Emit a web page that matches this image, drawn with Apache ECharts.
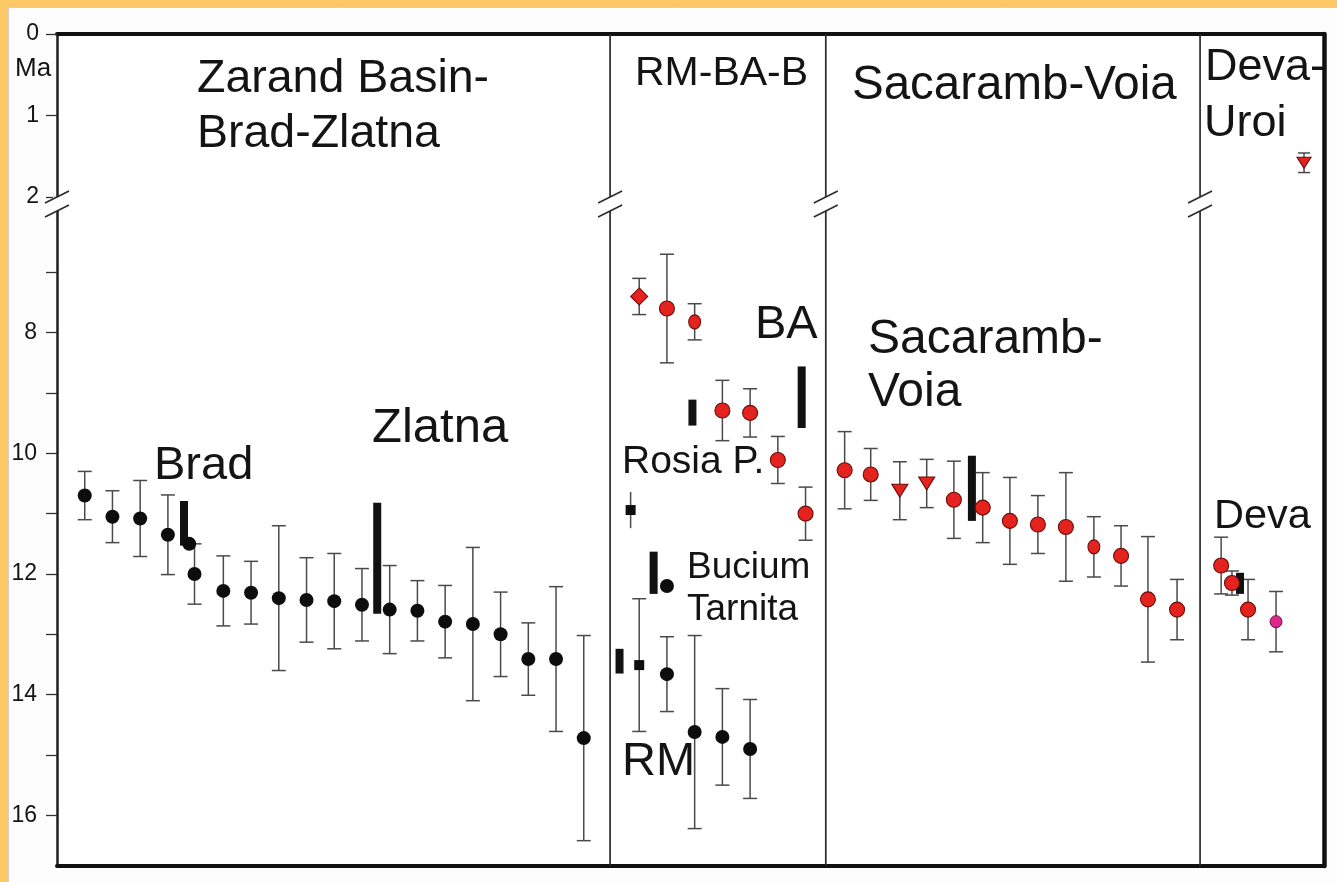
<!DOCTYPE html>
<html>
<head>
<meta charset="utf-8">
<script src="https://cdn.jsdelivr.net/npm/echarts@6.0.0/dist/echarts.min.js"></script>
<style>
  html, body { margin: 0; padding: 0; background: #FDC866; }
  #chart { width: 1337px; height: 882px; }
</style>
</head>
<body>
<div id="chart"></div>
<script>
// ---- Age axis (Ma); the axis is broken between 2 and 6 Ma ----
const upperTicks = [0, 1, 2];
const lowerTicks = [7, 8, 9, 10, 11, 12, 13, 14, 15, 16];
const lowerLabels = [8, 10, 12, 14, 16];
const LOWER_MIN = 6;
const LOWER_MAX = 16.84;

// ---- Horizontal sample axis: samples are placed in slots, districts split the plot ----
const SLOT_MAX = 45.7;
const districtBounds = [19.95, 27.73, 41.23];
const breakPositions = [0, 19.95, 27.73, 41.23];

// ---- Ages: [slot, age Ma, ± error Ma]; null error = no error bar ----
const blackCircles = [
  [1, 10.70, 0.40], [2, 11.05, 0.43], [3, 11.08, 0.63], [4, 11.35, 0.66],
  [4.77, 11.50, null], [4.96, 12.00, 0.50], [6, 12.28, 0.58], [7, 12.31, 0.52],
  [8, 12.40, 1.20], [9, 12.43, 0.70], [10, 12.45, 0.79], [11, 12.51, 0.60],
  [12, 12.59, 0.73], [13, 12.61, 0.50], [14, 12.79, 0.60], [15, 12.83, 1.27],
  [16, 13.00, 0.70], [17, 13.41, 0.60], [18, 13.41, 1.20], [19, 14.72, 1.70],
  [22, 12.20, null], [22, 13.66, 0.62], [23, 14.62, 1.60], [24, 14.70, 0.80],
  [25, 14.90, 0.82]
];
const blackSquares = [
  [21, 13.51, 1.10]
];
const blackSquaresNoCap = [
  [20.69, 10.94, 0.30]
];
const redCircles = [
  [22, 7.60, 0.90], [24, 9.29, 0.50], [25, 9.33, 0.40], [26, 10.11, 0.39],
  [27, 11.00, 0.44],
  [28.41, 10.28, 0.64], [29.35, 10.35, 0.43], [32.35, 10.77, 0.64],
  [33.39, 10.90, 0.58], [34.37, 11.12, 0.72], [35.38, 11.18, 0.48],
  [36.39, 11.22, 0.90], [38.38, 11.70, 0.50], [39.35, 12.42, 1.04],
  [40.40, 12.59, 0.50],
  [41.99, 11.86, 0.47], [42.38, 12.15, 0.20], [42.96, 12.59, 0.50]
];
const redOvals = [
  [23, 7.82, 0.30], [37.40, 11.55, 0.50]
];
const redDiamonds = [
  [21, 7.40, 0.30]
];
const redTriangles = [
  [30.40, 10.62, 0.48], [31.37, 10.50, 0.40]
];
const magentaCircles = [
  [43.97, 12.79, 0.50]
];
// Young (0–2 Ma) age from Deva-Uroi
const upperTriangles = [
  [44.98, 1.58, 0.12]
];

// ---- Age ranges drawn as solid bars: [slot, from Ma, to Ma] ----
const ageRanges = [
  [4.58, 10.79, 11.53],   // Brad
  [11.55, 10.82, 12.66],  // Zlatna
  [22.92, 9.11, 9.54],
  [26.86, 8.56, 9.58],    // BA
  [21.52, 11.63, 12.33],  // Bucium
  [20.29, 13.24, 13.65],
  [33.00, 10.04, 11.12],  // Sacaramb
  [42.67, 11.98, 12.33]   // Deva
];

// ---- Text ----
const FONT = "'Liberation Sans', Arial, Helvetica, sans-serif";
const INK = '#141414';
const texts = [
  { t: 'Zarand Basin-', x: 197, y: 79, s: 46.5 },
  { t: 'Brad-Zlatna', x: 197, y: 134, s: 46.5 },
  { t: 'RM-BA-B', x: 635, y: 74, s: 41 },
  { t: 'Sacaramb-Voia', x: 852, y: 86, s: 47.5 },
  { t: 'Deva-', x: 1205, y: 68, s: 45 },
  { t: 'Uroi', x: 1204, y: 124, s: 45 },
  { t: 'Brad', x: 154, y: 466, s: 47 },
  { t: 'Zlatna', x: 372, y: 428, s: 49 },
  { t: 'BA', x: 755, y: 325, s: 47 },
  { t: 'Sacaramb-', x: 868, y: 340, s: 48 },
  { t: 'Voia', x: 868, y: 393, s: 48 },
  { t: 'Rosia P.', x: 622, y: 462, s: 39 },
  { t: 'Bucium', x: 687, y: 568, s: 37 },
  { t: 'Tarnita', x: 687, y: 610, s: 37 },
  { t: 'RM', x: 622, y: 762, s: 47 },
  { t: 'Deva', x: 1214, y: 517, s: 41.5 },
  { t: 'Ma', x: 15, y: 69, s: 26 }
];

// ---- Renderers ----
const ERR_COLOR = '#4a4a4a';
function errorBars(capHalf) {
  return function (params, api) {
    const x = api.value(0), y = api.value(1), e = api.value(2);
    const a = api.coord([x, y - e]);
    const b = api.coord([x, y + e]);
    const st = { stroke: ERR_COLOR, lineWidth: 1.5 };
    const kids = [{ type: 'line', shape: { x1: a[0], y1: a[1], x2: b[0], y2: b[1] }, style: st }];
    if (capHalf > 0) {
      kids.push({ type: 'line', shape: { x1: a[0] - capHalf, y1: a[1], x2: a[0] + capHalf, y2: a[1] }, style: st });
      kids.push({ type: 'line', shape: { x1: b[0] - capHalf, y1: b[1], x2: b[0] + capHalf, y2: b[1] }, style: st });
    }
    return { type: 'group', children: kids };
  };
}
function rangeBar(params, api) {
  const a = api.coord([api.value(0), api.value(1)]);
  const b = api.coord([api.value(0), api.value(2)]);
  const w = 8;
  return { type: 'rect', shape: { x: a[0] - w / 2, y: a[1], width: w, height: b[1] - a[1] },
           style: { fill: '#111' } };
}
function boundaryLine(params, api) {
  const a = api.coord([api.value(0), 0]);
  const b = api.coord([api.value(0), 1]);
  return { type: 'line', shape: { x1: a[0], y1: a[1], x2: b[0], y2: b[1] },
           style: { stroke: '#2a2a2a', lineWidth: 1.7 } };
}
function axisBreak(params, api) {
  const c = api.coord([api.value(0), api.value(1)]);
  const x = c[0], y = c[1], gap = 14, hw = 12, hh = 6;
  const st = { stroke: '#2a2a2a', lineWidth: 1.6 };
  return { type: 'group', children: [
    { type: 'rect', shape: { x: x - 4, y: y, width: 8, height: gap }, style: { fill: '#ffffff' } },
    { type: 'line', shape: { x1: x - hw, y1: y + hh, x2: x + hw, y2: y - hh }, style: st },
    { type: 'line', shape: { x1: x - hw, y1: y + gap + hh, x2: x + hw, y2: y + gap - hh }, style: st }
  ] };
}

const withErr = arr => arr.filter(d => d[2] != null);
const pts = arr => arr.map(d => [d[0], d[1]]);

const hiddenX = (gi) => ({ gridIndex: gi, type: 'value', min: 0, max: SLOT_MAX, show: false });
const frameAxisLine = (w, c) => ({ show: true, onZero: false, lineStyle: { color: c, width: w } });
const noDeco = { axisTick: { show: false }, axisLabel: { show: false }, splitLine: { show: false } };

const redStyle = { color: '#E5231E', borderColor: '#6a0e0e', borderWidth: 1.1, opacity: 1 };
const blackStyle = { color: '#0d0d0d', opacity: 1 };

const option = {
  animation: false,
  backgroundColor: 'transparent',
  textStyle: { fontFamily: FONT },
  grid: [
    { left: 57, right: 13, top: 34, bottom: 16, show: true, backgroundColor: '#ffffff', borderWidth: 0, outerBoundsMode: 'none' },
    { left: 57, right: 13, top: 34, height: 163, outerBoundsMode: 'none' },
    { left: 57, right: 13, top: 212, bottom: 16, outerBoundsMode: 'none' }
  ],
  xAxis: [
    Object.assign({ gridIndex: 0, type: 'value', min: 0, max: SLOT_MAX, position: 'bottom',
      axisLine: frameAxisLine(4, '#111') }, noDeco),
    Object.assign({ gridIndex: 0, type: 'value', min: 0, max: SLOT_MAX, position: 'top',
      axisLine: frameAxisLine(4, '#111') }, noDeco),
    hiddenX(1),
    hiddenX(2)
  ],
  yAxis: [
    Object.assign({ gridIndex: 0, type: 'value', min: 0, max: 1, position: 'left',
      axisLine: frameAxisLine(2.5, '#1e1e1e') }, noDeco),
    Object.assign({ gridIndex: 0, type: 'value', min: 0, max: 1, position: 'right',
      axisLine: frameAxisLine(4.5, '#111') }, noDeco),
    {
      gridIndex: 1, type: 'value', min: 0, max: 2, inverse: true,
      axisLine: { show: false },
      axisTick: { show: true, length: 11, customValues: upperTicks, lineStyle: { color: '#333', width: 1.3 } },
      axisLabel: { show: true, customValues: upperTicks, margin: 18, fontSize: 23, color: INK, fontFamily: FONT },
      splitLine: { show: false }
    },
    {
      gridIndex: 2, type: 'value', min: LOWER_MIN, max: LOWER_MAX, inverse: true,
      axisLine: { show: false },
      axisTick: { show: true, length: 11, customValues: lowerTicks, lineStyle: { color: '#333', width: 1.3 } },
      axisLabel: { show: true, customValues: lowerLabels, margin: 20, fontSize: 23, color: INK, fontFamily: FONT },
      splitLine: { show: false }
    }
  ],
  graphic: [
    { type: 'rect', z: -100, shape: { x: 8.5, y: 7.5, width: 1340, height: 890 },
      style: { fill: '#fdfdfd', stroke: '#cfcfcf', lineWidth: 1 } }
  ].concat(texts.map(d => ({
    type: 'text', z: 100, x: d.x, y: d.y,
    style: { text: d.t, fontSize: d.s, fontFamily: FONT, fill: INK,
             textAlign: 'left', textVerticalAlign: 'middle', align: 'left', verticalAlign: 'middle' }
  }))),
  series: [
    // district boundaries
    { type: 'custom', xAxisIndex: 0, yAxisIndex: 0, silent: true, z: 1,
      data: districtBounds.map(x => [x, 0]), encode: { x: 0, y: 1 }, renderItem: boundaryLine },
    // axis break marks
    { type: 'custom', xAxisIndex: 2, yAxisIndex: 2, silent: true, z: 20, clip: false,
      data: breakPositions.map(x => [x, 2]), encode: { x: 0, y: 1 }, renderItem: axisBreak },
    // error bars
    { type: 'custom', xAxisIndex: 3, yAxisIndex: 3, silent: true, z: 3,
      data: withErr(blackCircles.concat(blackSquares, redCircles, redOvals, redDiamonds, redTriangles, magentaCircles)),
      encode: { x: 0, y: 1 }, renderItem: errorBars(7) },
    { type: 'custom', xAxisIndex: 3, yAxisIndex: 3, silent: true, z: 3,
      data: blackSquaresNoCap, encode: { x: 0, y: 1 }, renderItem: errorBars(0) },
    { type: 'custom', xAxisIndex: 2, yAxisIndex: 2, silent: true, z: 3,
      data: upperTriangles, encode: { x: 0, y: 1 }, renderItem: errorBars(6) },
    // age ranges
    { type: 'custom', xAxisIndex: 3, yAxisIndex: 3, silent: true, z: 4,
      data: ageRanges, encode: { x: 0, y: 1 }, renderItem: rangeBar },
    // points
    { type: 'scatter', xAxisIndex: 3, yAxisIndex: 3, z: 5, data: pts(blackCircles),
      symbol: 'circle', symbolSize: 14, itemStyle: blackStyle },
    { type: 'scatter', xAxisIndex: 3, yAxisIndex: 3, z: 5, data: pts(blackSquares.concat(blackSquaresNoCap)),
      symbol: 'rect', symbolSize: 10, itemStyle: blackStyle },
    { type: 'scatter', xAxisIndex: 3, yAxisIndex: 3, z: 5, data: pts(redCircles),
      symbol: 'circle', symbolSize: 15, itemStyle: redStyle },
    { type: 'scatter', xAxisIndex: 3, yAxisIndex: 3, z: 5, data: pts(redOvals),
      symbol: 'circle', symbolSize: [12, 14], itemStyle: redStyle },
    { type: 'scatter', xAxisIndex: 3, yAxisIndex: 3, z: 5, data: pts(redDiamonds),
      symbol: 'diamond', symbolSize: 17, itemStyle: redStyle },
    { type: 'scatter', xAxisIndex: 3, yAxisIndex: 3, z: 5, data: pts(redTriangles),
      symbol: 'triangle', symbolRotate: 180, symbolSize: [16, 13], itemStyle: redStyle },
    { type: 'scatter', xAxisIndex: 3, yAxisIndex: 3, z: 5, data: pts(magentaCircles),
      symbol: 'circle', symbolSize: 12, itemStyle: { color: '#E0268C', borderColor: '#6e1040', borderWidth: 1, opacity: 1 } },
    { type: 'scatter', xAxisIndex: 2, yAxisIndex: 2, z: 5, data: pts(upperTriangles),
      symbol: 'triangle', symbolRotate: 180, symbolSize: [14, 11], itemStyle: redStyle }
  ]
};

const chart = echarts.init(document.getElementById('chart'), null, { renderer: 'canvas' });
chart.setOption(option);
</script>
</body>
</html>
